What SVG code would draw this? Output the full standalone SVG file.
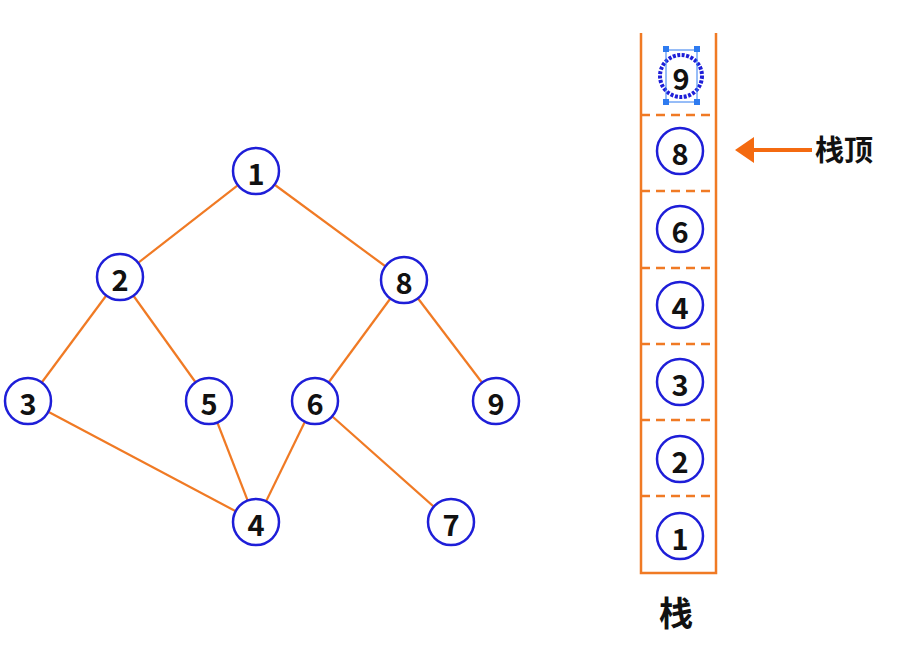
<svg xmlns="http://www.w3.org/2000/svg" width="914" height="649" viewBox="0 0 914 649">
<style>
.e{stroke:#F07A24;stroke-width:2.2;fill:none}
.n circle{fill:#fff;stroke:#1E1ED8;stroke-width:2.5}
.n text{font-family:"Noto Sans CJK SC","Liberation Sans",sans-serif;font-weight:bold;font-size:29px;fill:#111;text-anchor:middle;dominant-baseline:central}
.wall{stroke:#F07A24;stroke-width:2.5;fill:none}
.dash{stroke:#F07A24;stroke-width:2.5;stroke-dasharray:9 6;fill:none}
.lbl{font-family:"Noto Sans CJK SC",sans-serif;font-weight:bold;fill:#111}
.h{fill:#2E7BF0}
</style>
<rect width="914" height="649" fill="#fff"/>
<g id="edges">
<line class="e" x1="256" y1="171" x2="120" y2="277"/>
<line class="e" x1="256" y1="171" x2="404" y2="280"/>
<line class="e" x1="120" y1="277" x2="28" y2="401"/>
<line class="e" x1="120" y1="277" x2="209" y2="401"/>
<line class="e" x1="404" y1="280" x2="315" y2="401"/>
<line class="e" x1="404" y1="280" x2="496" y2="401"/>
<line class="e" x1="28" y1="401" x2="256" y2="522"/>
<line class="e" x1="209" y1="401" x2="256" y2="522"/>
<line class="e" x1="315" y1="401" x2="256" y2="522"/>
<line class="e" x1="315" y1="401" x2="451" y2="522"/>
</g>
<g id="n1" class="n"><circle cx="256" cy="171" r="23"/><text x="256" y="172">1</text></g>
<g id="n2" class="n"><circle cx="120" cy="277" r="23"/><text x="120" y="278">2</text></g>
<g id="n8" class="n"><circle cx="404" cy="280" r="23"/><text x="404" y="281">8</text></g>
<g id="n3" class="n"><circle cx="28" cy="401" r="23"/><text x="28" y="402">3</text></g>
<g id="n5" class="n"><circle cx="209" cy="401" r="23"/><text x="209" y="402">5</text></g>
<g id="n6" class="n"><circle cx="315" cy="401" r="23"/><text x="315" y="402">6</text></g>
<g id="n9" class="n"><circle cx="496" cy="401" r="23"/><text x="496" y="402">9</text></g>
<g id="n4" class="n"><circle cx="256" cy="522" r="23"/><text x="256" y="523">4</text></g>
<g id="n7" class="n"><circle cx="451" cy="522" r="23"/><text x="451" y="523">7</text></g>
<g id="stack">
<path class="wall" d="M641 33 V573 H716 V33"/>
<line class="dash" x1="641" y1="115" x2="716" y2="115"/>
<line class="dash" x1="641" y1="191" x2="716" y2="191"/>
<line class="dash" x1="641" y1="268" x2="716" y2="268"/>
<line class="dash" x1="641" y1="344" x2="716" y2="344"/>
<line class="dash" x1="641" y1="420" x2="716" y2="420"/>
<line class="dash" x1="641" y1="496" x2="716" y2="496"/>
<text class="lbl" x="676" y="626" font-size="34" text-anchor="middle">栈</text>
</g>
<g id="s9" class="n"><circle cx="681" cy="76" r="21" style="stroke-width:4;stroke-dasharray:3 1.5"/><text x="681" y="77">9</text>
<rect x="666" y="50" width="31" height="52" fill="none" stroke="#2E7BF0" stroke-width="1"/>
<rect class="h" x="663" y="46" width="6" height="6"/><rect class="h" x="694" y="46" width="6" height="6"/>
<rect class="h" x="663" y="99" width="6" height="6"/><rect class="h" x="694" y="99" width="6" height="6"/></g>
<g id="s8" class="n"><circle cx="680" cy="151" r="23"/><text x="680" y="152">8</text></g>
<g id="s6" class="n"><circle cx="680" cy="229" r="23"/><text x="680" y="230">6</text></g>
<g id="s4" class="n"><circle cx="680" cy="305" r="23"/><text x="680" y="306">4</text></g>
<g id="s3" class="n"><circle cx="680" cy="382" r="23"/><text x="680" y="383">3</text></g>
<g id="s2" class="n"><circle cx="680" cy="459" r="23"/><text x="680" y="460">2</text></g>
<g id="s1" class="n"><circle cx="680" cy="536" r="23"/><text x="680" y="537">1</text></g>
<g id="top">
<line x1="750" y1="150" x2="812" y2="150" stroke="#F46A10" stroke-width="4"/>
<polygon points="735,150 754,137 754,163" fill="#F46A10"/>
<text class="lbl" x="815" y="161" font-size="29">栈顶</text>
</g>
</svg>
